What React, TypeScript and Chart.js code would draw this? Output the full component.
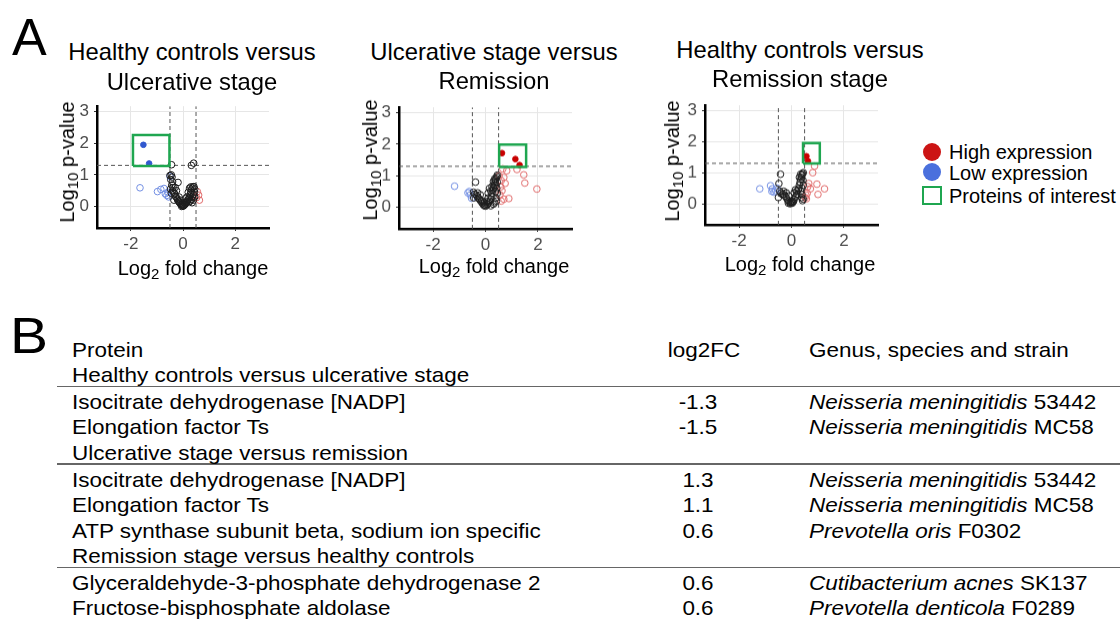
import React, { useEffect, useRef } from "react";
import { Chart, registerables } from "chart.js";

Chart.register(...registerables);

type Pt = [number, number];

// ---------- axis / threshold values ----------
const xTickValues = [-2, 0, 2];
const yTickValues = [0, 1, 2, 3];
const xLimits = [-3.3, 3.3];
const yLimits = [-0.68, 3.17];
const foldChangeCut = 0.5;
const pValueCut = 1.3;

// ---------- panel 1: Healthy controls versus Ulcerative stage ----------
const p1Neutral: Pt[] = [
  [-0.44, 1.32], [0.32, 1.3], [0.41, 1.37],
  [-0.5, 0.98], [-0.45, 1.0], [-0.42, 0.93], [-0.47, 0.85], [-0.4, 0.78], [-0.19, 0.76],
  [-0.43, 0.68], [-0.38, 0.6], [-0.4, 0.5], [-0.36, 0.45], [-0.32, 0.4], [-0.3, 0.33],
  [-0.26, 0.3], [-0.22, 0.24], [-0.2, 0.2], [-0.17, 0.16], [-0.14, 0.13], [-0.11, 0.1],
  [-0.08, 0.07], [-0.05, 0.05], [-0.03, 0.03], [0, 0.01], [0.02, 0.02], [0.04, 0.04],
  [0.07, 0.06], [0.1, 0.09], [0.12, 0.12], [0.15, 0.15], [0.18, 0.18], [0.2, 0.22],
  [0.23, 0.27], [0.26, 0.32], [0.28, 0.38], [0.3, 0.45], [0.32, 0.52], [0.35, 0.58],
  [0.38, 0.62], [0.42, 0.63], [0.45, 0.55], [0.44, 0.45], [0.4, 0.38], [0.36, 0.3],
  [0.33, 0.22], [0.28, 0.18], [-0.05, 0.0], [-0.02, 0.08], [0.05, 0.12], [-0.1, 0.2],
  [-0.25, 0.5], [-0.3, 0.6], [0.15, 0.3], [0.25, 0.15],
  [-0.48, 0.55], [-0.45, 0.42], [0.3, 0.62], [0.25, 0.58], [0.2, 0.45], [0.1, 0.25],
  [-0.15, 0.3], [0.4, 0.2], [0.45, 0.3], [0.35, 0.12], [-0.35, 0.2],
];
const p1Low: Pt[] = [
  [-1.65, 0.59], [-0.98, 0.47], [-0.85, 0.54], [-0.73, 0.57], [-0.68, 0.4],
  [-0.62, 0.35], [-0.58, 0.45], [-0.5, 0.95], [-0.55, 0.3],
];
const p1High: Pt[] = [[0.55, 0.47], [0.6, 0.36], [0.63, 0.2], [0.52, 0.28]];
const p1SigLow: Pt[] = [[-1.52, 1.95], [-1.3, 1.36]];
const p1SigHigh: Pt[] = [];
const p1Box = [-1.92, -0.52, 1.28, 2.26];

// ---------- panel 2: Ulcerative stage versus Remission ----------
const p2Neutral: Pt[] = [
  [-0.38, 0.8], [-0.46, 0.48], [-0.42, 0.42], [-0.36, 0.4], [-0.32, 0.35], [-0.28, 0.3],
  [-0.24, 0.27], [-0.2, 0.22], [-0.16, 0.18], [-0.12, 0.13], [-0.08, 0.08], [-0.04, 0.05],
  [0, 0.04], [0.04, 0.06], [0.08, 0.1], [0.12, 0.14], [0.16, 0.2], [0.2, 0.26],
  [0.22, 0.35], [0.25, 0.45], [0.28, 0.55], [0.3, 0.62], [0.33, 0.7], [0.36, 0.78],
  [0.38, 0.85], [0.4, 0.92], [0.43, 0.97], [0.45, 1.02], [0.35, 0.9], [0.3, 0.82],
  [0.25, 0.66], [0.2, 0.52], [0.42, 0.2], [0.35, 0.15], [0.3, 0.1], [0.4, 0.3],
  [0.45, 0.45], [0.1, 0.3], [-0.3, 0.46], [0.43, 0.6], [0.38, 0.5], [-0.1, 0.2],
  [-0.45, 0.3], [0.2, 0.05], [0.05, 0.18],
  [0.1, 0.45], [0.15, 0.6], [-0.2, 0.4], [0.45, 0.8], [0.4, 0.7], [-0.05, 0.15],
];
const p2Low: Pt[] = [[-1.18, 0.67], [-0.67, 0.46], [-0.58, 0.4], [-0.53, 0.29], [-0.62, 0.5]];
const p2High: Pt[] = [
  [0.81, 1.16], [0.66, 1.22], [1.2, 1.2], [1.46, 1.03], [1.5, 0.77], [1.96, 0.58],
  [0.75, 0.76], [0.7, 0.95], [0.6, 0.85], [0.63, 0.53], [0.7, 0.26], [0.89, 0.28],
  [0.58, 0.65], [0.55, 0.4], [0.6, 0.2], [0.52, 1.0],
];
const p2SigLow: Pt[] = [];
const p2SigHigh: Pt[] = [[0.63, 1.72], [1.14, 1.53], [1.3, 1.34]];
const p2Box = [0.52, 1.55, 1.28, 1.99];

// ---------- panel 3: Healthy controls versus Remission stage ----------
const p3Neutral: Pt[] = [
  [-0.42, 0.95], [-0.48, 0.65], [-0.5, 0.2], [-0.45, 0.4], [-0.4, 0.35], [-0.35, 0.3],
  [-0.3, 0.3], [-0.25, 0.25], [-0.2, 0.2], [-0.15, 0.12], [-0.1, 0.08], [-0.05, 0.05],
  [0, 0.03], [0.03, 0.02], [0.05, 0.05], [0.08, 0.08], [0.1, 0.15], [0.15, 0.22],
  [0.2, 0.3], [0.25, 0.45], [0.3, 0.6], [0.33, 0.7], [0.35, 0.78], [0.38, 0.85],
  [0.4, 0.92], [0.42, 0.97], [0.45, 1.0], [0.3, 0.85], [0.35, 0.95], [0.28, 0.5],
  [0.2, 0.4], [0.4, 0.3], [0.38, 0.2], [0.45, 0.15], [0.42, 0.1], [-0.2, 0.35],
  [-0.3, 0.4], [0.1, 0.35], [-0.05, 0.0], [0.02, 0.1], [-0.12, 0.02], [0.45, 0.6],
  [0.25, 0.3],
  [0.4, 0.5], [0.35, 0.4], [0.15, 0.45], [-0.1, 0.25], [0.44, 0.75],
];
const p3Low: Pt[] = [
  [-1.21, 0.48], [-0.8, 0.58], [-0.73, 0.48], [-0.67, 0.37], [-0.6, 0.42], [-0.75, 0.4], [-0.55, 0.5],
];
const p3High: Pt[] = [
  [0.88, 1.21], [0.81, 1.0], [0.66, 0.65], [0.97, 0.63], [1.26, 0.48], [1.01, 0.3],
  [0.72, 0.48], [0.6, 0.34], [0.55, 0.28], [0.62, 0.55], [0.57, 0.16], [0.52, 0.2],
];
const p3SigLow: Pt[] = [];
const p3SigHigh: Pt[] = [[0.57, 1.53], [0.63, 1.37]];
const p3Box = [0.44, 1.08, 1.3, 1.95];

// ---------- titles & legend ----------
const panelTitles = [
  ["Healthy controls versus", "Ulcerative stage"],
  ["Ulcerative stage versus", "Remission"],
  ["Healthy controls versus", "Remission stage"],
];
const legendLabels = ["High expression", "Low expression", "Proteins of interest"];

// ---------- table B ----------
const tableHeaders = ["Protein", "log2FC", "Genus, species and strain"];
const groupLabels = [
  "Healthy controls versus ulcerative stage",
  "Ulcerative stage versus remission",
  "Remission stage versus healthy controls",
];
const rowGroup = [0, 0, 1, 1, 1, 2, 2];
const rowProtein = [
  "Isocitrate dehydrogenase [NADP]",
  "Elongation factor Ts",
  "Isocitrate dehydrogenase [NADP]",
  "Elongation factor Ts",
  "ATP synthase subunit beta, sodium ion specific",
  "Glyceraldehyde-3-phosphate dehydrogenase 2",
  "Fructose-bisphosphate aldolase",
];
const rowLog2FC = ["-1.3", "-1.5", "1.3", "1.1", "0.6", "0.6", "0.6"];
const rowSpecies = [
  "Neisseria meningitidis",
  "Neisseria meningitidis",
  "Neisseria meningitidis",
  "Neisseria meningitidis",
  "Prevotella oris",
  "Cutibacterium acnes",
  "Prevotella denticola",
];
const rowStrain = ["53442", "MC58", "53442", "MC58", "F0302", "SK137", "F0289"];

// ---------- styles ----------
const FONT = "'Liberation Sans', Arial, Helvetica, sans-serif";
const C_NEUTRAL = "#1c1c1c";
const C_LOW = "#7490e3";
const C_HIGH = "#e06a6a";
const C_SIG_LOW = "#3158cf";
const C_SIG_HIGH = "#c80000";
const C_GREEN = "#1fa650";
const C_LEG_RED = "#cc1414";
const C_LEG_BLUE = "#4a70dd";

type Area = { l: number; t: number; r: number; b: number };

function Volcano(props: {
  area: Area;
  neutral: Pt[];
  low: Pt[];
  high: Pt[];
  sigLow: Pt[];
  sigHigh: Pt[];
  box: number[];
}) {
  const ref = useRef<HTMLCanvasElement>(null);
  const { area } = props;
  const padL = 40, padT = 14, padR = 10, padB = 34;
  const w = area.r - area.l + padL + padR;
  const h = area.b - area.t + padT + padB;

  useEffect(() => {
    const xy = (a: Pt[]) => a.map(([x, y]) => ({ x, y }));
    const open = (data: Pt[], color: string) => ({
      data: xy(data),
      showLine: false,
      pointStyle: "circle",
      pointRadius: 3.3,
      pointBorderWidth: 1,
      pointBorderColor: color,
      pointBackgroundColor: "rgba(0,0,0,0)",
      order: 3,
    });
    const filled = (data: Pt[], color: string) => ({
      data: xy(data),
      showLine: false,
      pointStyle: "circle",
      pointRadius: 2.8,
      pointBorderWidth: 1,
      pointBorderColor: color,
      pointBackgroundColor: color,
      order: 1,
    });
    const dashed = (data: { x: number; y: number }[]) => ({
      data,
      showLine: true,
      pointRadius: 0,
      borderColor: "#555555",
      borderWidth: 1,
      borderDash: [4, 3],
      order: 4,
    });
    const [bx0, bx1, by0, by1] = props.box;
    const datasets: any[] = [
      {
        data: [
          { x: bx0, y: by0 }, { x: bx1, y: by0 }, { x: bx1, y: by1 },
          { x: bx0, y: by1 }, { x: bx0, y: by0 },
        ],
        showLine: true,
        pointRadius: 0,
        borderColor: C_GREEN,
        borderWidth: 2.5,
        order: 0,
      },
      filled(props.sigLow, C_SIG_LOW),
      filled(props.sigHigh, C_SIG_HIGH),
      open(props.neutral, C_NEUTRAL),
      open(props.low, C_LOW),
      open(props.high, C_HIGH),
      dashed([{ x: -foldChangeCut, y: yLimits[0] }, { x: -foldChangeCut, y: yLimits[1] }]),
      dashed([{ x: foldChangeCut, y: yLimits[0] }, { x: foldChangeCut, y: yLimits[1] }]),
      dashed([{ x: xLimits[0], y: pValueCut }, { x: xLimits[1], y: pValueCut }]),
    ];
    const tickFont = { family: FONT, size: 17 };
    const chart = new Chart(ref.current as HTMLCanvasElement, {
      type: "scatter",
      data: { datasets },
      options: {
        responsive: false,
        animation: false,
        events: [],
        layout: { padding: { top: padT, right: padR, left: 0, bottom: 0 } },
        plugins: { legend: { display: false }, tooltip: { enabled: false }, title: { display: false } },
        elements: { line: { tension: 0 } },
        scales: {
          x: {
            type: "linear",
            min: xLimits[0],
            max: xLimits[1],
            afterBuildTicks: (s: any) => {
              s.ticks = xTickValues.map((v) => ({ value: v }));
            },
            afterFit: (s: any) => {
              s.height = padB;
            },
            grid: { color: "#e6e6e6", lineWidth: 1, drawTicks: true, tickLength: 3, tickColor: "#333333" },
            border: { display: true, color: "#000000", width: 2.5 },
            ticks: { color: "#4d4d4d", font: tickFont, padding: 3, maxRotation: 0 },
          },
          y: {
            type: "linear",
            min: yLimits[0],
            max: yLimits[1],
            afterBuildTicks: (s: any) => {
              s.ticks = yTickValues.map((v) => ({ value: v }));
            },
            afterFit: (s: any) => {
              s.width = padL;
            },
            grid: { color: "#e6e6e6", lineWidth: 1, drawTicks: true, tickLength: 3, tickColor: "#333333" },
            border: { display: true, color: "#000000", width: 2.5 },
            ticks: { color: "#4d4d4d", font: tickFont, padding: 5 },
          },
        },
      } as any,
    });
    return () => chart.destroy();
  }, []);

  return (
    <canvas
      ref={ref}
      width={w}
      height={h}
      style={{ position: "absolute", left: area.l - padL, top: area.t - padT, width: w, height: h }}
    />
  );
}

function Txt(props: {
  x: number;
  y: number;
  size: number;
  anchor?: "start" | "middle" | "end";
  rotate?: boolean;
  sx?: number;
  children: any;
}) {
  const a = props.anchor || "start";
  const tx = a === "start" ? "0" : a === "middle" ? "-50%" : "-100%";
  const origin = a === "start" ? "0% 50%" : a === "middle" ? "50% 50%" : "100% 50%";
  const sx = props.sx || 1;
  return (
    <div
      style={{
        position: "absolute",
        left: props.x,
        top: props.y,
        fontSize: props.size,
        lineHeight: 1,
        whiteSpace: "nowrap",
        color: "#000",
        transformOrigin: props.rotate ? "50% 50%" : origin,
        transform: props.rotate
          ? "translate(-50%, -50%) rotate(-90deg)"
          : `translate(${tx}, -50%) scaleX(${sx})`,
      }}
    >
      {props.children}
    </div>
  );
}

const XTitle = () => (
  <span>
    Log<sub style={{ fontSize: "0.75em", verticalAlign: "-0.25em", lineHeight: 0 }}>2</sub> fold change
  </span>
);
const YTitle = () => (
  <span>
    Log<sub style={{ fontSize: "0.75em", verticalAlign: "-0.25em", lineHeight: 0 }}>10</sub> p-value
  </span>
);

export default function App() {
  const panels = [
    {
      area: { l: 97, t: 105, r: 269, b: 228 },
      neutral: p1Neutral, low: p1Low, high: p1High, sigLow: p1SigLow, sigHigh: p1SigHigh, box: p1Box,
      titleX: 192, titleY: [52, 82], xTitle: [193, 268], yTitle: [67, 162],
    },
    {
      area: { l: 399, t: 106, r: 572, b: 228.5 },
      neutral: p2Neutral, low: p2Low, high: p2High, sigLow: p2SigLow, sigHigh: p2SigHigh, box: p2Box,
      titleX: 494, titleY: [52, 81], xTitle: [494, 266], yTitle: [370, 160],
    },
    {
      area: { l: 705, t: 104, r: 878, b: 224.5 },
      neutral: p3Neutral, low: p3Low, high: p3High, sigLow: p3SigLow, sigHigh: p3SigHigh, box: p3Box,
      titleX: 800, titleY: [50, 79], xTitle: [800, 264], yTitle: [672, 161],
    },
  ];

  // table row layout
  const rowStep = 25.4;
  const lineGap = 1.6;
  const headerY = 348.5;
  const items: any[] = [];
  let y = headerY + rowStep;
  const lines: number[] = [];
  groupLabels.forEach((g, gi) => {
    items.push({ kind: "group", y, text: g });
    const lineY = y + 12.5;
    lines.push(lineY);
    y += rowStep + lineGap;
    rowProtein.forEach((p, i) => {
      if (rowGroup[i] !== gi) return;
      items.push({ kind: "row", y, i });
      y += rowStep;
    });
  });

  const colProtein = 71.5;
  const colFC = 698;
  const colFCHeader = 704;
  const colSpecies = 809;
  const tableFont = 21;
  const tableSx = 1.07;

  return (
    <div
      style={{
        position: "absolute",
        left: 0,
        top: 0,
        width: 1120,
        height: 620,
        overflow: "hidden",
        background: "#ffffff",
        fontFamily: FONT,
        color: "#000",
      }}
    >
      <Txt x={12} y={37} size={52}>A</Txt>
      <Txt x={10} y={336} size={50} sx={1.14}>B</Txt>

      {panels.map((p, k) => (
        <React.Fragment key={k}>
          <Volcano
            area={p.area}
            neutral={p.neutral}
            low={p.low}
            high={p.high}
            sigLow={p.sigLow}
            sigHigh={p.sigHigh}
            box={p.box}
          />
          <Txt x={p.titleX} y={p.titleY[0]} size={23.8} anchor="middle">{panelTitles[k][0]}</Txt>
          <Txt x={p.titleX} y={p.titleY[1]} size={23.8} anchor="middle">{panelTitles[k][1]}</Txt>
          <Txt x={p.xTitle[0]} y={p.xTitle[1]} size={20} anchor="middle"><XTitle /></Txt>
          <Txt x={p.yTitle[0]} y={p.yTitle[1]} size={20} rotate><YTitle /></Txt>
        </React.Fragment>
      ))}

      {/* legend */}
      <div style={{ position: "absolute", left: 922.7, top: 142.7, width: 18, height: 18, borderRadius: 9, background: C_LEG_RED }} />
      <div style={{ position: "absolute", left: 922.7, top: 163.3, width: 18, height: 18, borderRadius: 9, background: C_LEG_BLUE }} />
      <div style={{ position: "absolute", left: 922, top: 186, width: 20, height: 19, boxSizing: "border-box", border: `2.5px solid ${C_GREEN}` }} />
      <Txt x={949} y={152} size={20}>{legendLabels[0]}</Txt>
      <Txt x={949} y={173} size={20}>{legendLabels[1]}</Txt>
      <Txt x={949} y={196} size={20}>{legendLabels[2]}</Txt>

      {/* table */}
      <Txt x={colProtein} y={headerY} size={tableFont} sx={tableSx}>{tableHeaders[0]}</Txt>
      <Txt x={colFCHeader} y={headerY} size={tableFont} sx={tableSx} anchor="middle">{tableHeaders[1]}</Txt>
      <Txt x={colSpecies} y={headerY} size={tableFont} sx={tableSx}>{tableHeaders[2]}</Txt>
      {lines.map((ly, i) => (
        <div key={"l" + i} style={{ position: "absolute", left: 57, top: ly - 0.75, width: 1070, height: 1.5, background: "#666666" }} />
      ))}
      {items.map((it, k) =>
        it.kind === "group" ? (
          <Txt key={k} x={colProtein} y={it.y} size={tableFont} sx={tableSx}>{it.text}</Txt>
        ) : (
          <React.Fragment key={k}>
            <Txt x={colProtein} y={it.y} size={tableFont} sx={tableSx}>{rowProtein[it.i]}</Txt>
            <Txt x={colFC} y={it.y} size={tableFont} sx={tableSx} anchor="middle">{rowLog2FC[it.i]}</Txt>
            <Txt x={colSpecies} y={it.y} size={tableFont} sx={tableSx}>
              <i>{rowSpecies[it.i]}</i> {rowStrain[it.i]}
            </Txt>
          </React.Fragment>
        )
      )}
    </div>
  );
}
